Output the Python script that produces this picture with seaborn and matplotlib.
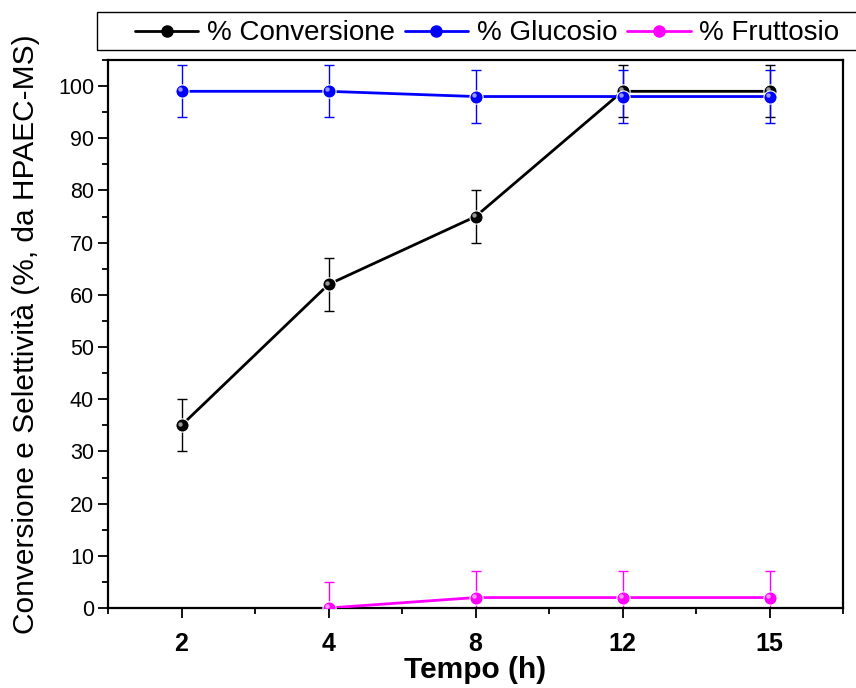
import numpy as np
import pandas as pd
import matplotlib
matplotlib.use("Agg")
import matplotlib.pyplot as plt
import seaborn as sns
from matplotlib.ticker import MultipleLocator, FixedLocator
from matplotlib.lines import Line2D
from matplotlib.patches import Rectangle

time_labels = ["2", "4", "8", "12", "15"]
conversione = [35, 62, 75, 99, 99]
glucosio = [99, 99, 98, 98, 98]
fruttosio = [np.nan, 0, 2, 2, 2]
err_conv = [5, 5, 5, 5, 5]
err_gluc = [5, 5, 5, 5, 5]
err_frut = [5, 5, 5, 5, 5]

series = [
    ("% Conversione", conversione, err_conv, "#000000"),
    ("% Glucosio", glucosio, err_gluc, "#0000ff"),
    ("% Fruttosio", fruttosio, err_frut, "#ff00ff"),
]

sns.set_style("ticks")
plt.rcParams["font.family"] = ["Liberation Sans", "DejaVu Sans"]
for k in ["text.color", "axes.labelcolor", "xtick.color", "ytick.color", "axes.edgecolor"]:
    plt.rcParams[k] = "black"

fig = plt.figure(figsize=(8.56, 6.88), dpi=100)
ax = fig.add_axes([108/856, 1-608/688, (843-108)/856, (608-60)/688])

pos = np.arange(1, len(time_labels)+1)
rows = []
for name, vals, errs, col in series:
    for p, v in zip(pos, vals):
        rows.append({"pos": p, "val": v, "serie": name})
df = pd.DataFrame(rows)

palette = {s[0]: s[3] for s in series}
for name, vals, errs, col in series:
    v = np.array(vals, dtype=float)
    ax.errorbar(pos, v, yerr=errs, fmt="none", ecolor=col, elinewidth=1.0,
                capsize=3.8, capthick=1.0, zorder=2)

sns.lineplot(data=df.dropna(), x="pos", y="val", hue="serie", palette=palette,
             marker="o", markersize=9.5, linewidth=2, ax=ax, legend=False,
             markeredgewidth=0.8, zorder=3)
# highlight for 3D look
for name, vals, errs, col in series:
    v = np.array(vals, dtype=float)
    ax.plot(pos - 0.012, v + 0.35, "o", color="white", alpha=0.6, markersize=3.2,
            zorder=4, markeredgewidth=0)

ax.set_xlim(0.5, 5.5)
ax.set_ylim(0, 105)
ax.set_xticks(pos)
ax.set_xticklabels(time_labels, fontsize=18, fontweight="bold")
ax.xaxis.set_minor_locator(FixedLocator(np.arange(0.5, 6.0, 1.0)))
ax.set_yticks(np.arange(0, 101, 10))
ax.yaxis.set_minor_locator(MultipleLocator(5))
ax.tick_params(axis="y", labelsize=15.5, length=7, width=1.3, direction="out", pad=3)
ax.tick_params(axis="x", length=7, width=1.3, direction="out", pad=10)
ax.tick_params(which="minor", length=4, width=1.3)
for sp in ax.spines.values():
    sp.set_linewidth(1.6)
ax.set_xlabel("Tempo (h)", fontsize=21.5, fontweight="bold", labelpad=0)
ax.set_ylabel("Conversione e Selettività (%, da HPAEC-MS)", fontsize=21.5, labelpad=13)

handles = [Line2D([0], [0], color=s[3], lw=2, marker="o", markersize=8,
                  markerfacecolor=s[3], markeredgecolor=s[3]) for s in series]
leg = fig.legend(handles, [s[0] for s in series], loc="lower left",
                 bbox_to_anchor=(129/856, 1-52/688), ncol=3, frameon=False,
                 fontsize=20, handlelength=2.3, handletextpad=0.3,
                 columnspacing=0.35, borderpad=0.2, borderaxespad=0)
fig.patches.append(Rectangle((97/856, 1-50/688), 800/856, 38/688,
                             transform=fig.transFigure, fill=False,
                             edgecolor="black", linewidth=1.0, zorder=0))

fig.savefig("out.png", dpi=100)
